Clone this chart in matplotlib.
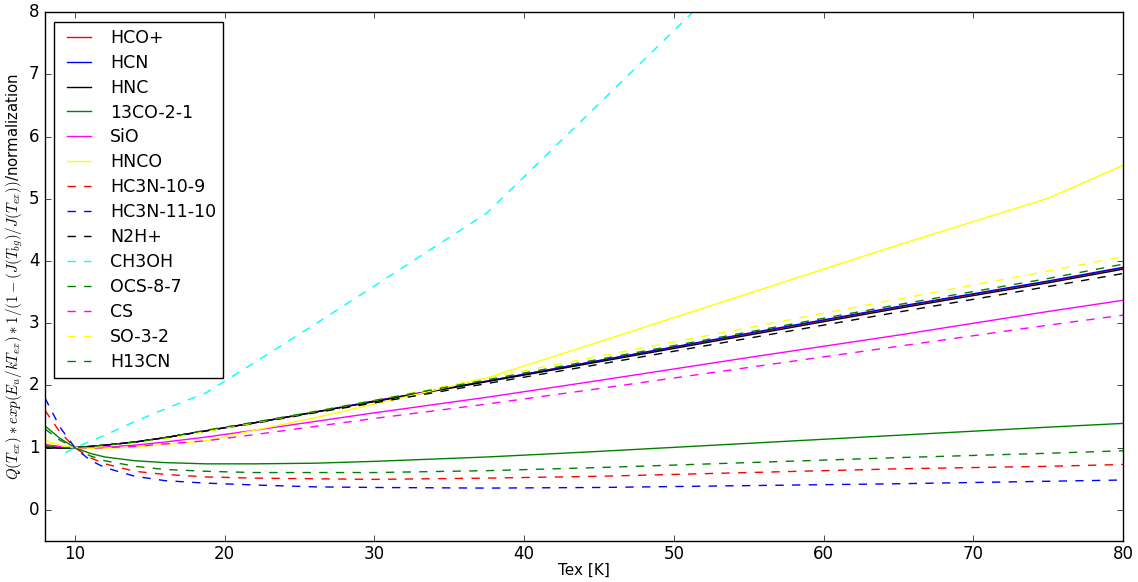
import matplotlib
matplotlib.use('Agg')
import matplotlib.pyplot as plt
import numpy as np

plt.style.use('classic')

# excitation temperatures (K)
tex = [8, 9, 10, 11, 12, 14, 16, 18.75, 22, 26, 30, 37.5, 45, 55, 65, 75, 80]
tex_ch3oh = [9.375, 10, 12, 14, 16, 18.75, 22, 26, 30, 37.5, 45, 55, 65, 75, 80]

# normalized values
hcop = [1.03, 1.0, 1.0, 1.02, 1.04, 1.09, 1.16, 1.27, 1.40, 1.57, 1.75, 2.07, 2.40, 2.83, 3.26, 3.67, 3.89]
hcn = [1.02, 1.0, 1.0, 1.02, 1.04, 1.09, 1.16, 1.27, 1.40, 1.57, 1.75, 2.07, 2.40, 2.84, 3.27, 3.68, 3.90]
hnc = [1.0, 0.99, 1.0, 1.02, 1.04, 1.09, 1.16, 1.27, 1.40, 1.57, 1.74, 2.06, 2.38, 2.81, 3.24, 3.65, 3.87]
co13 = [1.35, 1.15, 1.0, 0.91, 0.85, 0.79, 0.76, 0.74, 0.74, 0.75, 0.78, 0.85, 0.94, 1.07, 1.20, 1.33, 1.39]
sio = [1.05, 1.02, 1.0, 1.0, 1.01, 1.04, 1.09, 1.17, 1.28, 1.42, 1.56, 1.81, 2.08, 2.45, 2.81, 3.19, 3.37]
hnco = [1.12, 1.04, 1.0, 0.99, 0.99, 1.01, 1.05, 1.11, 1.28, 1.48, 1.70, 2.12, 2.70, 3.48, 4.26, 5.01, 5.54]
hc3n_10 = [1.60, 1.25, 1.0, 0.84, 0.74, 0.62, 0.57, 0.53, 0.51, 0.50, 0.49, 0.51, 0.54, 0.60, 0.66, 0.70, 0.73]
hc3n_11 = [1.80, 1.33, 1.0, 0.80, 0.68, 0.54, 0.47, 0.43, 0.40, 0.37, 0.36, 0.35, 0.36, 0.39, 0.42, 0.46, 0.48]
n2hp = [1.0, 0.99, 1.0, 1.02, 1.04, 1.09, 1.16, 1.27, 1.39, 1.56, 1.72, 2.03, 2.34, 2.76, 3.18, 3.59, 3.80]
ch3oh = [0.92, 1.0, 1.2, 1.42, 1.62, 1.88, 2.37, 2.98, 3.60, 4.77, 6.53, 8.88, 11.23, 13.58, 14.8]
ocs = [1.30, 1.12, 1.0, 0.87, 0.79, 0.70, 0.65, 0.62, 0.60, 0.60, 0.60, 0.63, 0.68, 0.76, 0.84, 0.91, 0.95]
cs = [1.04, 1.01, 1.0, 0.99, 1.0, 1.02, 1.06, 1.11, 1.21, 1.34, 1.47, 1.70, 1.95, 2.29, 2.63, 2.97, 3.13]
so = [1.08, 1.03, 1.0, 1.0, 1.02, 1.07, 1.14, 1.26, 1.40, 1.58, 1.76, 2.12, 2.47, 2.93, 3.39, 3.84, 4.07]
h13cn = [1.02, 1.0, 1.0, 1.02, 1.04, 1.09, 1.16, 1.28, 1.41, 1.58, 1.76, 2.09, 2.42, 2.86, 3.30, 3.72, 3.95]

fig = plt.figure(figsize=(11.38, 5.82), dpi=100, facecolor='white')
ax = fig.add_subplot(111)
fig.subplots_adjust(left=0.0395, right=0.987, top=0.979, bottom=0.0705)

ax.plot(tex, hcop, color='red', label='HCO+')
ax.plot(tex, hcn, color='blue', label='HCN')
ax.plot(tex, hnc, color='black', label='HNC')
ax.plot(tex, co13, color='green', label='13CO-2-1')
ax.plot(tex, sio, color='magenta', label='SiO')
ax.plot(tex, hnco, color='yellow', label='HNCO')
ax.plot(tex, hc3n_10, '--', color='red', label='HC3N-10-9')
ax.plot(tex, hc3n_11, '--', color='blue', label='HC3N-11-10')
ax.plot(tex, n2hp, '--', color='black', label='N2H+')
ax.plot(tex_ch3oh, ch3oh, '--', color='cyan', label='CH3OH')
ax.plot(tex, ocs, '--', color='green', label='OCS-8-7')
ax.plot(tex, cs, '--', color='magenta', label='CS')
ax.plot(tex, so, '--', color='yellow', label='SO-3-2')
ax.plot(tex, h13cn, '--', color='green', label='H13CN')

ax.set_xlim(8, 80)
ax.set_ylim(-0.5, 8)
ax.tick_params(labelsize=12)
ax.tick_params(axis='x', pad=3)
ax.set_xlabel('Tex [K]', fontsize=11, labelpad=0)
ax.set_ylabel(r'$Q(T_{ex})*exp(E_u/kT_{ex})*1/(1-(J(T_{bg})/J(T_{ex}))$/normalization',
              fontsize=10.7, labelpad=3)
ax.legend(loc='upper left', fontsize=12.5, labelspacing=0.4, handletextpad=0.8,
          borderaxespad=0.55)

fig.savefig('out.png', dpi=100, facecolor='white')
